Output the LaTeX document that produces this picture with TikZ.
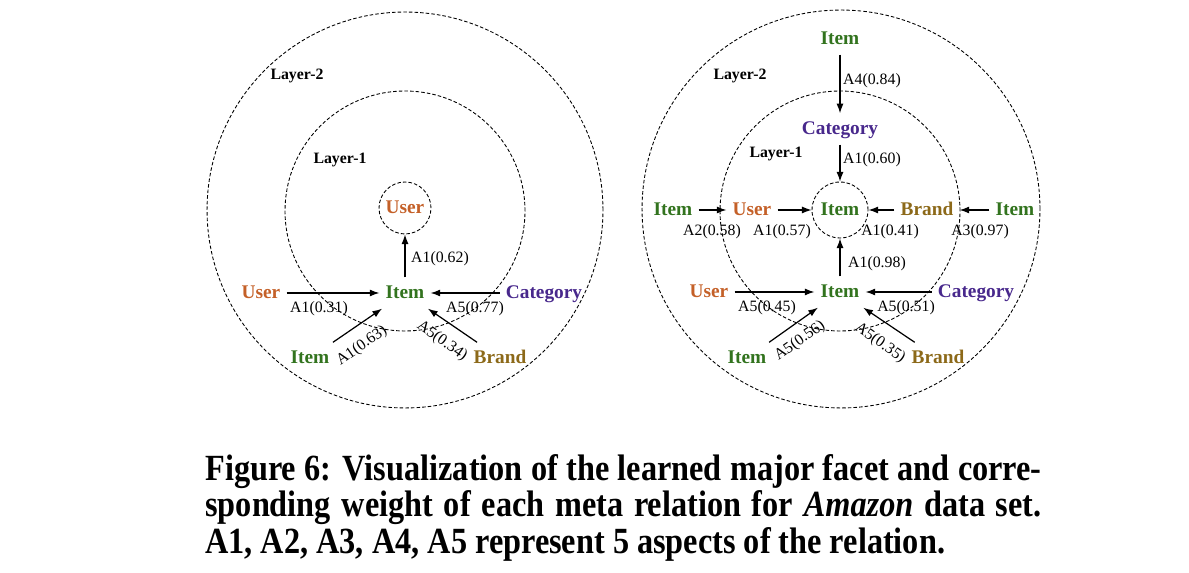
\documentclass[tikz,border=0pt]{standalone}
\usepackage{fontspec}
\setmainfont{Liberation Serif}
\newfontfamily\capfont[FakeStretch=0.875]{Liberation Serif}
\usetikzlibrary{arrows.meta,positioning}
\definecolor{userc}{RGB}{196,96,40}
\definecolor{itemc}{RGB}{50,115,30}
\definecolor{catc}{RGB}{72,40,140}
\definecolor{brandc}{RGB}{140,105,25}

\begin{document}
\begin{tikzpicture}[x=0.02cm,y=-0.02cm,>={Latex[length=5.5pt,width=4pt]},
    ent/.style={font=\bfseries\fontsize{11}{13}\selectfont,text height=8.5pt,text depth=2.3pt},
    user/.style={ent,text=userc},
    item/.style={ent,text=itemc},
    cat/.style={ent,text=catc},
    brand/.style={ent,text=brandc},
    lbl/.style={font=\fontsize{9}{11}\selectfont,inner sep=0pt},
    layer/.style={font=\bfseries\fontsize{9}{11}\selectfont},
    ring/.style={circle,draw,dash pattern=on 2pt off 1.2pt,line width=0.5pt,inner sep=0pt},
    rel/.style={->,line width=0.7pt}]

  \useasboundingbox (0,0) rectangle (1189,573);

  % left picture: User as target
  \node[ring,minimum size=7.92cm] (Lout) at (405,210) {};
  \node[ring,minimum size=4.8cm] (Lmid) at (405,211) {};
  \node[user,ring,minimum size=1.04cm] (Lcore) at (405,208) {User};
  \node[layer] (L2) at (297,76) {Layer-2};
  \node[layer] (L1) at (340,160) {Layer-1};

  \node[item] (Lc) at (405,293) {Item};
  \node[user] (Lu) at (261,293) {User};
  \node[cat] (Lk) at (544,293) {Category};
  \node[item] (Li) at (310,358) {Item};
  \node[brand] (Lb) at (500,358) {Brand};

  \draw[rel] (Lc) -- (Lcore);
  \draw[rel] (Lu) -- (Lc);
  \draw[rel] (Lk) -- (Lc);
  \draw[rel] (Li) -- (Lc);
  \draw[rel] (Lb) -- (Lc);

  \node[lbl] (La) at (440,259) {A1(0.62)};
  \node[lbl] (Lb1) at (319,309) {A1(0.31)};
  \node[lbl] (Lb2) at (475,309) {A5(0.77)};
  \node[lbl,rotate=35] (Lb3) at (362,346) {A1(0.63)};
  \node[lbl,rotate=-35] (Lb4) at (442,341) {A5(0.34)};

  % right picture: Item as target
  \node[ring,minimum size=7.96cm] (Rout) at (841,209) {};
  \node[ring,minimum size=4.8cm] (Rmid) at (840,211) {};
  \node[item,ring,minimum size=1.12cm] (Rcore) at (840,210) {Item};
  \node[layer] (R2) at (740,76) {Layer-2};
  \node[layer] (R1) at (776,154) {Layer-1};

  \node[item] (Rtop) at (840,39) {Item};
  \node[cat] (Rcat) at (840,129) {Category};
  \node[item] (Rwi) at (673,210) {Item};
  \node[user] (Rwu) at (752,210) {User};
  \node[brand] (Reb) at (927,210) {Brand};
  \node[item] (Rei) at (1015,210) {Item};
  \node[item] (Rc) at (840,292) {Item};
  \node[user] (Ru) at (709,292) {User};
  \node[cat] (Rk) at (976,292) {Category};
  \node[item] (Ri) at (747,358) {Item};
  \node[brand] (Rb) at (938,358) {Brand};

  \draw[rel] (Rtop) -- (Rcat);
  \draw[rel] (Rcat) -- (Rcore);
  \draw[rel] (Rwi) -- (Rwu);
  \draw[rel] (Rwu) -- (Rcore);
  \draw[rel] (Reb) -- (Rcore);
  \draw[rel] (Rei) -- (Reb);
  \draw[rel] (Rc) -- (Rcore);
  \draw[rel] (Ru) -- (Rc);
  \draw[rel] (Rk) -- (Rc);
  \draw[rel] (Ri) -- (Rc);
  \draw[rel] (Rb) -- (Rc);

  \node[lbl] (Ra1) at (872,81) {A4(0.84)};
  \node[lbl] (Ra2) at (872,160) {A1(0.60)};
  \node[lbl] (Ra3) at (712,232) {A2(0.58)};
  \node[lbl] (Ra4) at (782,232) {A1(0.57)};
  \node[lbl] (Ra5) at (890,232) {A1(0.41)};
  \node[lbl] (Ra6) at (980,232) {A3(0.97)};
  \node[lbl] (Ra7) at (877,264) {A1(0.98)};
  \node[lbl] (Ra8) at (767,308) {A5(0.45)};
  \node[lbl] (Ra9) at (906,308) {A5(0.51)};
  \node[lbl,rotate=35] (Ra10) at (800,341) {A5(0.56)};
  \node[lbl,rotate=-35] (Ra11) at (880,343) {A5(0.35)};

  % caption
  \node[anchor=north west,inner sep=0pt,text width=476pt,align=justify,
        font=\capfont\bfseries\fontsize{21}{20.7}\selectfont] (cap) at (205,454)
    {Figure 6: Visualization of the learned major facet and corre-\linebreak
     sponding weight of each meta relation for \textit{Amazon} data set.\linebreak
     A1, A2, A3, A4, A5 represent 5 aspects of the relation.};
\end{tikzpicture}
\end{document}
